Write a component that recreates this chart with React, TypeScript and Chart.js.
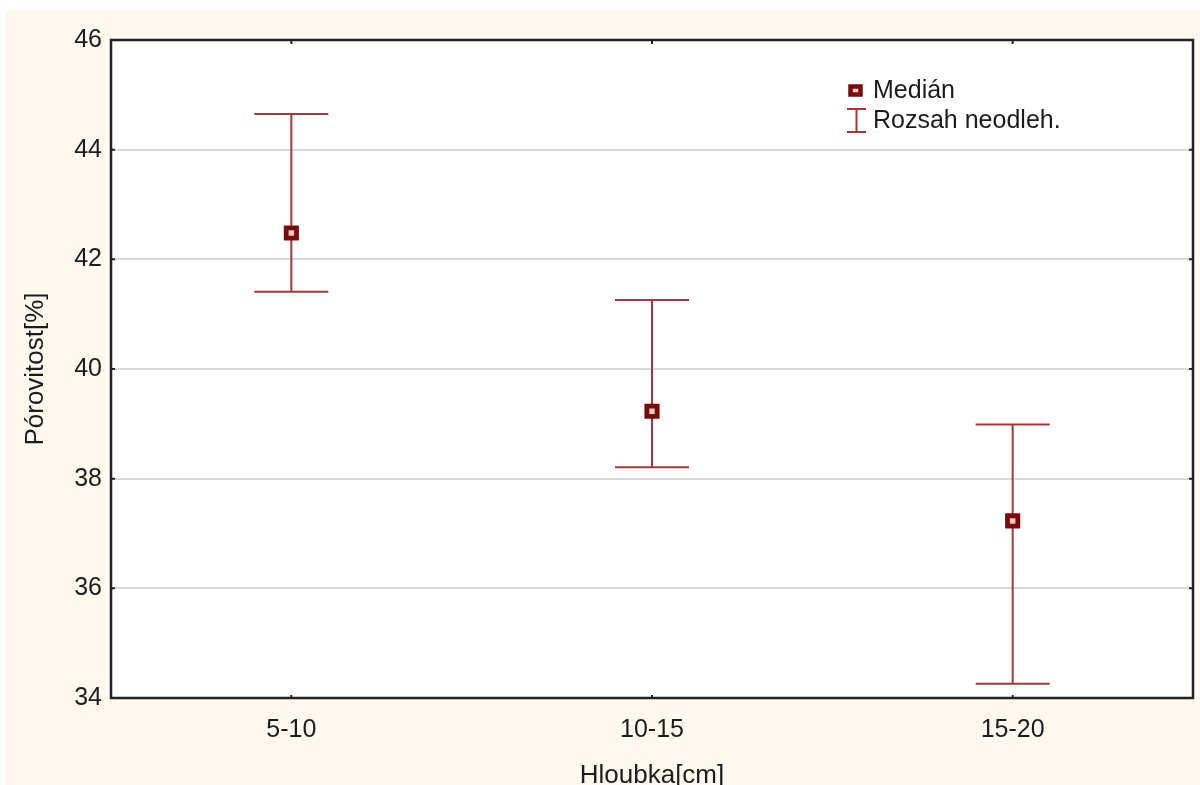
import React, { useEffect, useRef } from "react";
import { Chart, registerables } from "chart.js";
Chart.register(...registerables);

const categories = ["5-10", "10-15", "15-20"];
const medians = [42.48, 39.23, 37.23];
const rangeLow = [41.41, 38.21, 34.26];
const rangeHigh = [44.65, 41.26, 38.99];
const yMin = 34;
const yMax = 46;
const yStep = 2;
const legendLabels = ["Medián", "Rozsah neodleh."];
const xTitle = "Hloubka[cm]";
const yTitle = "Pórovitost[%]";

const FONT = "'Liberation Sans', Arial, sans-serif";
const MARKER = "#7a0a0a";
const MARKER_FILL = "#e9c9c9";
const BAR = "#a23838";
const TEXT = "#1c1c1c";

const background = {
  id: "bgPlugin",
  beforeDraw(chart: any) {
    const { ctx, chartArea } = chart;
    ctx.save();
    ctx.fillStyle = "#ffffff";
    ctx.fillRect(0, 0, chart.width, chart.height);
    ctx.fillStyle = "#fef9ef";
    ctx.fillRect(5, 10, chart.width - 5, chart.height - 10);
    ctx.fillStyle = "#ffffff";
    ctx.fillRect(chartArea.left, chartArea.top, chartArea.right - chartArea.left, chartArea.bottom - chartArea.top);
    ctx.restore();
  },
};

const errorBars = {
  id: "errorBars",
  beforeDatasetsDraw(chart: any) {
    const { ctx } = chart;
    const x = chart.scales.x;
    const y = chart.scales.y;
    ctx.save();
    ctx.strokeStyle = BAR;
    ctx.lineWidth = 2;
    categories.forEach((_, i) => {
      const px = x.getPixelForValue(i);
      const yl = y.getPixelForValue(rangeLow[i]);
      const yh = y.getPixelForValue(rangeHigh[i]);
      ctx.beginPath();
      ctx.moveTo(px, yl);
      ctx.lineTo(px, yh);
      ctx.moveTo(px - 37, yh);
      ctx.lineTo(px + 37, yh);
      ctx.moveTo(px - 37, yl);
      ctx.lineTo(px + 37, yl);
      ctx.stroke();
    });
    ctx.restore();
  },
};

const frame = {
  id: "frame",
  afterDatasetsDraw(chart: any) {
    const { ctx, chartArea } = chart;
    const x = chart.scales.x;
    const y = chart.scales.y;
    ctx.save();
    ctx.strokeStyle = "#222222";
    ctx.lineWidth = 2.5;
    ctx.strokeRect(chartArea.left, chartArea.top, chartArea.right - chartArea.left, chartArea.bottom - chartArea.top);
    ctx.lineWidth = 2;
    categories.forEach((_, i) => {
      const px = x.getPixelForValue(i);
      ctx.beginPath();
      ctx.moveTo(px, chartArea.top);
      ctx.lineTo(px, chartArea.top + 4);
      ctx.moveTo(px, chartArea.bottom);
      ctx.lineTo(px, chartArea.bottom - 3);
      ctx.stroke();
    });
    for (let v = yMin + yStep; v < yMax; v += yStep) {
      const py = y.getPixelForValue(v);
      ctx.beginPath();
      ctx.moveTo(chartArea.left, py);
      ctx.lineTo(chartArea.left + 4, py);
      ctx.moveTo(chartArea.right, py);
      ctx.lineTo(chartArea.right - 4, py);
      ctx.stroke();
    }
    ctx.restore();
  },
};

const legend = {
  id: "customLegend",
  afterDraw(chart: any) {
    const { ctx } = chart;
    ctx.save();
    ctx.fillStyle = MARKER_FILL;
    ctx.strokeStyle = MARKER;
    ctx.lineWidth = 4.5;
    ctx.fillRect(850.5, 86.5, 10, 8);
    ctx.strokeRect(850.5, 86.5, 10, 8);
    ctx.strokeStyle = BAR;
    ctx.lineWidth = 2;
    ctx.beginPath();
    ctx.moveTo(847, 109);
    ctx.lineTo(866, 109);
    ctx.moveTo(856.5, 109);
    ctx.lineTo(856.5, 132);
    ctx.moveTo(847, 132);
    ctx.lineTo(866, 132);
    ctx.stroke();
    ctx.fillStyle = TEXT;
    ctx.font = `25px ${FONT}`;
    ctx.textBaseline = "middle";
    ctx.textAlign = "left";
    ctx.fillText(legendLabels[0], 873, 91);
    ctx.fillText(legendLabels[1], 873, 121);
    ctx.restore();
  },
};

export default function App() {
  const ref = useRef<HTMLCanvasElement | null>(null);
  useEffect(() => {
    if (!ref.current) return;
    const chart = new Chart(ref.current, {
      type: "line",
      data: {
        labels: categories,
        datasets: [
          {
            label: legendLabels[0],
            data: medians,
            showLine: false,
            pointStyle: "rect",
            pointRadius: 7.3,
            pointHoverRadius: 7.3,
            pointBorderWidth: 4.8,
            borderColor: MARKER,
            backgroundColor: MARKER_FILL,
            pointBackgroundColor: MARKER_FILL,
            pointBorderColor: MARKER,
          },
        ],
      },
      options: {
        animation: false,
        responsive: true,
        maintainAspectRatio: false,
        layout: { autoPadding: false, padding: { left: 0, top: 40, right: 7, bottom: 0 } },
        plugins: { legend: { display: false }, tooltip: { enabled: false } },
        scales: {
          x: {
            type: "category",
            offset: true,
            grid: { display: false, drawTicks: false },
            border: { display: false },
            ticks: { color: TEXT, padding: 17, font: { family: FONT, size: 25 } },
            title: {
              display: true,
              text: xTitle,
              color: TEXT,
              font: { family: FONT, size: 26, lineHeight: 1 },
              padding: { top: 0, bottom: -4 },
            },
            afterFit(scale: any) {
              scale.height = 87;
            },
          },
          y: {
            min: yMin,
            max: yMax,
            ticks: { stepSize: yStep, color: TEXT, padding: 9, font: { family: FONT, size: 25 } },
            grid: { color: "#d9d9d9", lineWidth: 2, drawTicks: false },
            border: { display: false },
            title: {
              display: true,
              text: yTitle,
              color: TEXT,
              font: { family: FONT, size: 26, lineHeight: 1.2 },
              padding: { top: 20, bottom: 0 },
            },
            afterFit(scale: any) {
              scale.width = 111;
            },
          },
        },
      },
      plugins: [background, errorBars, frame, legend],
    } as any);
    return () => chart.destroy();
  }, []);
  return (
    <div style={{ position: "absolute", left: 0, top: 0, width: 1200, height: 785 }}>
      <canvas ref={ref} />
    </div>
  );
}
